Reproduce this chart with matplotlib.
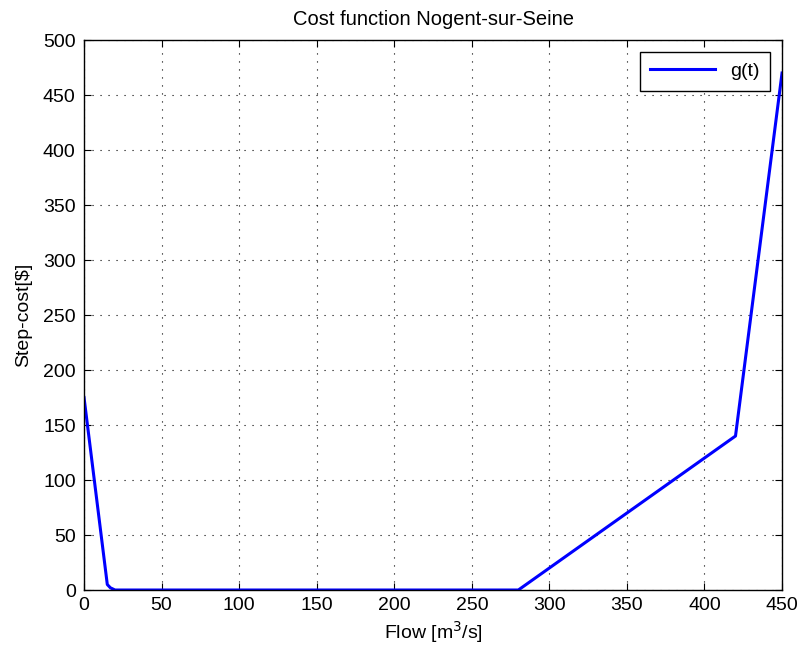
import matplotlib.pyplot as plt
import numpy as np

plt.rcParams['font.family'] = ['Liberation Sans', 'DejaVu Sans']

# piecewise cost curve
flow = [0, 15, 17, 20, 280, 420, 450]
cost = [175, 5, 2, 0, 0, 140, 470]

fig = plt.figure(figsize=(7.98, 6.56), dpi=100)
ax = fig.add_axes([0.1053, 0.1006, 0.8747, 0.8384])

ax.plot(flow, cost, color='#0000ff', linewidth=2.2, label='g(t)')

ax.set_xlim(0, 450)
ax.set_ylim(0, 500)
ax.set_xticks(np.arange(0, 451, 50))
ax.set_yticks(np.arange(0, 501, 50))
ax.tick_params(direction='in', top=True, right=True, labelsize=14, length=5)
ax.tick_params(axis='y', pad=6)
ax.tick_params(axis='x', pad=5)
ax.grid(True, linestyle=(0, (1, 6.2)), color='black', linewidth=0.8)
for s in ax.spines.values():
    s.set_linewidth(1.0)

ax.set_title('Cost function Nogent-sur-Seine', fontsize=14.5, pad=11)
ax.set_xlabel('Flow [m$^3$/s]', fontsize=14, labelpad=4)
ax.set_ylabel('Step-cost[\\$]', fontsize=14, labelpad=8)

leg = ax.legend(loc='upper right', fancybox=False, framealpha=1,
                edgecolor='black', fontsize=14, handlelength=3.3,
                borderaxespad=0.6, borderpad=0.55)
leg.get_frame().set_linewidth(1.0)

fig.savefig('out.png', dpi=100)
